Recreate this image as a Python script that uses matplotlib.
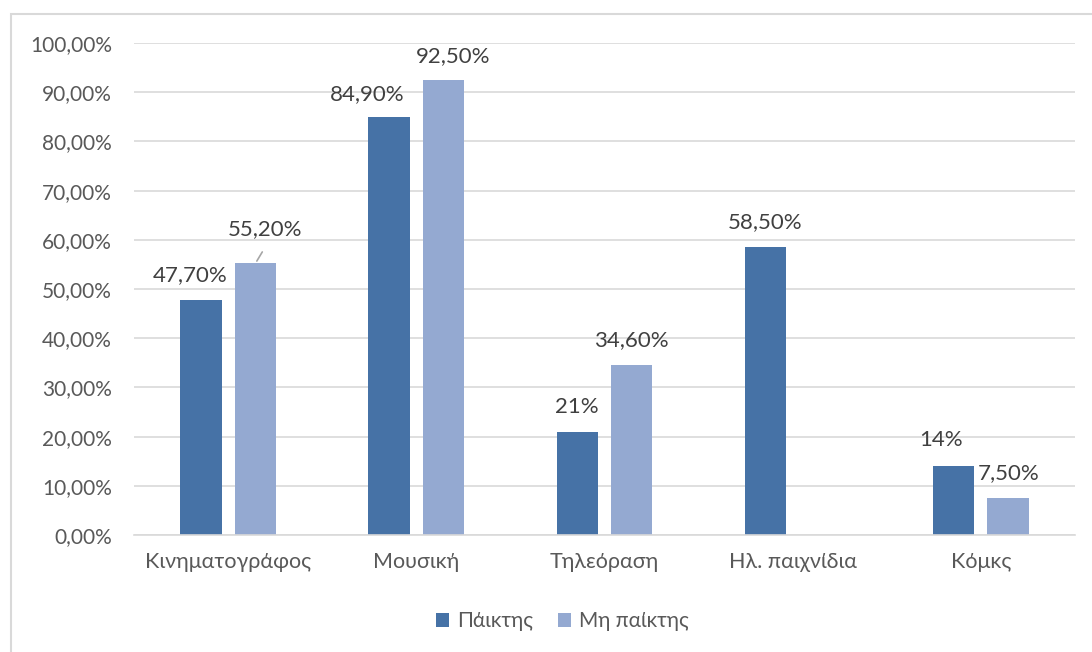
import matplotlib.pyplot as plt
import numpy as np
from matplotlib.patches import Rectangle
from matplotlib.ticker import FuncFormatter

plt.rcParams["font.family"] = ["Lato", "DejaVu Sans"]

categories = ["Κινηματογράφος", "Μουσική", "Τηλεόραση", "Ηλ. παιχνίδια", "Κόμκς"]
players = [47.7, 84.9, 21.0, 58.5, 14.0]
non_players = [55.2, 92.5, 34.6, np.nan, 7.5]
# decimals shown in each data label
players_dec = [2, 2, 0, 2, 0]
non_players_dec = [2, 2, 2, 2, 2]
series_names = ["Πάικτης", "Μη παίκτης"]
yticks = np.arange(0, 101, 10)

TEXT = "#595959"
LABEL = "#404040"
GRID = "#d9d9d9"
DARK = "#4672a6"
LIGHT = "#94a9d1"


def pct(v, dec):
    return f"{v:.{dec}f}".replace(".", ",") + "%"


fig = plt.figure(figsize=(10.92, 6.52), dpi=100)
ax = fig.add_axes([134 / 1092, 0.1794, 941 / 1092, 0.7546])

x = np.arange(len(categories))
w = 0.22
off = 0.145
ax.bar(x - off, players, w, color=DARK, zorder=3, label=series_names[0])
ax.bar(x + off, non_players, w, color=LIGHT, zorder=3, label=series_names[1])

# label offsets (points) relative to the top of each bar
p_off = [(-8, 18), (-16, 17), (0, 18), (0, 18), (-9, 19)]
n_off = [(7, 25), (7, 17), (0, 18), (0, 18), (0, 18)]

for i, v in enumerate(players):
    ax.annotate(pct(v, players_dec[i]), (x[i] - off, v), xytext=p_off[i],
                textcoords="offset points", ha="center", va="center",
                fontsize=16, color=LABEL)
for i, v in enumerate(non_players):
    if np.isnan(v):
        continue
    ax.annotate(pct(v, non_players_dec[i]), (x[i] + off, v), xytext=n_off[i],
                textcoords="offset points", ha="center", va="center",
                fontsize=16, color=LABEL)

# leader line for the cinema label
ax.annotate("", (x[0] + off, non_players[0]), xytext=(6, 10),
            textcoords="offset points",
            arrowprops=dict(arrowstyle="-", color="#a6a6a6", lw=1.2))

ax.set_xlim(-0.5, len(categories) - 0.5)
ax.set_ylim(0, 100)
ax.set_yticks(yticks)
ax.yaxis.set_major_formatter(FuncFormatter(lambda v, _: pct(v, 2)))
ax.set_xticks(x)
ax.set_xticklabels(categories, fontsize=15.5)
ax.tick_params(axis="both", length=0, labelcolor=TEXT)
ax.tick_params(axis="y", labelsize=15, pad=16)
ax.tick_params(axis="x", pad=12)
ax.grid(axis="y", color=GRID, lw=1.2, zorder=0)
for s in ["top", "right", "left"]:
    ax.spines[s].set_visible(False)
ax.spines["bottom"].set_color(GRID)
ax.spines["bottom"].set_linewidth(1.2)
ax.spines["bottom"].set_zorder(4)

ax.legend(loc="center", bbox_to_anchor=(0.455, -0.175), ncol=2, frameon=False,
          fontsize=15, labelcolor=TEXT, handlelength=0.65, handleheight=0.65,
          handletextpad=0.35, columnspacing=1.2)

fig.patches.append(Rectangle((11 / 1092, -0.01), 1.0, 1 - 14 / 652 + 0.01,
                             transform=fig.transFigure, fill=False,
                             edgecolor=GRID, lw=1.5))

fig.savefig("out.png", dpi=100)
